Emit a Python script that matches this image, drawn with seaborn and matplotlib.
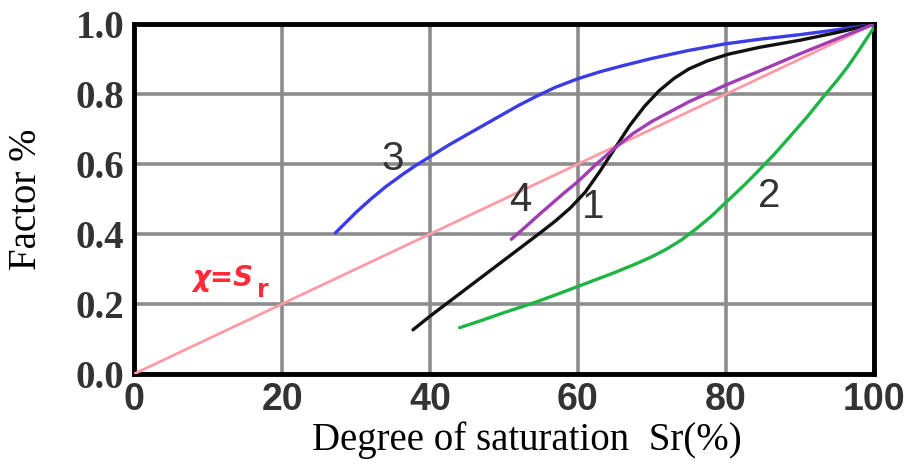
import matplotlib
matplotlib.use("Agg")
import matplotlib.pyplot as plt
import seaborn as sns
import pandas as pd

# ---- data ----
line_x = [0, 100]
line_y = [0.0, 1.0]

c3_x = [27.2, 30, 32, 34, 36.4, 38, 40, 42.5, 45.4, 48, 50, 52, 54.5, 57, 60, 63, 66, 70, 75, 80, 85, 90, 95, 100]
c3_y = [0.403, 0.462, 0.50, 0.535, 0.572, 0.595, 0.621, 0.654, 0.689, 0.72, 0.744, 0.768, 0.795, 0.82, 0.844,
        0.864, 0.881, 0.902, 0.925, 0.944, 0.958, 0.97, 0.984, 1.0]

c1_x = [37.7, 40, 45, 50, 55, 57, 59, 61, 63, 65, 67, 69, 71, 73, 75, 77.5, 80.3, 84.6, 90, 95, 100]
c1_y = [0.126, 0.165, 0.245, 0.325, 0.405, 0.438, 0.475, 0.52, 0.58, 0.645, 0.71, 0.765, 0.81, 0.845, 0.872,
        0.895, 0.914, 0.934, 0.954, 0.976, 1.0]

c4_x = [51, 53, 55, 58, 60, 62.5, 65, 67.5, 70, 75, 80, 85, 90, 95, 100]
c4_y = [0.385, 0.422, 0.46, 0.515, 0.55, 0.60, 0.646, 0.688, 0.722, 0.778, 0.826, 0.87, 0.915, 0.958, 1.0]

c2_x = [44, 47, 50, 54, 57, 60, 65, 68, 70, 72, 74, 76, 78, 80, 82.5, 84.6, 86.5, 88.6, 91, 93.1, 95,
        96.4, 98, 100]
c2_y = [0.132, 0.153, 0.175, 0.203, 0.226, 0.25, 0.29, 0.316, 0.335, 0.357, 0.383, 0.415, 0.45, 0.49, 0.54,
        0.585, 0.627, 0.677, 0.735, 0.79, 0.838, 0.876, 0.925, 0.99]

x_ticks = [0, 20, 40, 60, 80, 100]
y_ticks = [0.0, 0.2, 0.4, 0.6, 0.8, 1.0]
y_ticklabels = ["0.0", "0.2", "0.4", "0.6", "0.8", "1.0"]

curve_labels = ["3", "4", "1", "2"]
curve_label_x = [34.9, 52.2, 62.0, 85.9]
curve_label_y = [0.614, 0.497, 0.477, 0.51]

sns.set_style("white")
plt.rcParams["font.family"] = ["Liberation Serif", "DejaVu Serif"]

fig = plt.figure(figsize=(9.13, 4.65), dpi=100)
ax = fig.add_axes([0.147, 0.196, 0.81, 0.752])

series = [
    (line_x, line_y, "#ff9aa6", 2.0),
    (c3_x, c3_y, "#3c3ce6", 2.4),
    (c1_x, c1_y, "#111111", 2.4),
    (c4_x, c4_y, "#a03cb4", 2.4),
    (c2_x, c2_y, "#1eb446", 2.4),
]
for xs, ys, col, lw in series:
    df = pd.DataFrame({"x": xs, "y": ys})
    sns.lineplot(data=df, x="x", y="y", ax=ax, color=col, linewidth=lw,
                 sort=False, estimator=None, zorder=3)
for ln in ax.get_lines():
    ln.set_solid_joinstyle("round")
    ln.set_solid_capstyle("round")

ax.set_xlim(0, 100)
ax.set_ylim(0, 1.0)
ax.set_xticks(x_ticks)
ax.set_yticks(y_ticks)
ax.set_yticklabels(y_ticklabels)
ax.grid(True, color="#8c8c8c", linewidth=2.6, zorder=1)
ax.set_axisbelow(True)
for sp in ax.spines.values():
    sp.set_color("black")
    sp.set_linewidth(3.5)
    sp.set_visible(True)

ax.tick_params(axis="both", length=0)
ax.tick_params(axis="y", pad=7)
ax.tick_params(axis="x", pad=6)
for lab in ax.get_yticklabels():
    lab.set_fontfamily("Liberation Serif")
    lab.set_fontweight("bold")
    lab.set_fontsize(28)
    lab.set_color("#333333")
for lab in ax.get_xticklabels():
    lab.set_fontfamily("Liberation Sans")
    lab.set_fontweight("bold")
    lab.set_fontsize(27)
    lab.set_color("#333333")

ax.set_xlabel("Degree of saturation  Sr(%)", fontsize=28,
              fontfamily="Liberation Serif", color="black")
ax.xaxis.set_label_coords(0.531, -0.189)
ax.xaxis.label.set_va("center")
ax.set_ylabel("Factor %", fontsize=28, fontfamily="Liberation Serif", color="black")
ax.yaxis.set_label_coords(-0.145, 0.5)
ax.yaxis.label.set_va("center")

for t, x, y in zip(curve_labels, curve_label_x, curve_label_y):
    ax.text(x, y, t, fontsize=29, fontfamily="Liberation Sans", fontweight="normal",
            color="#333333", ha="center", va="center", zorder=4)

ax.text(7.8, 0.275, "χ=S", fontsize=20, fontfamily="DejaVu Sans", fontweight="bold",
        style="italic", color="#ff2a3a", ha="left", va="center", zorder=4)
ax.text(16.6, 0.24, "r", fontsize=17, fontfamily="DejaVu Sans", fontweight="bold",
        color="#ff2a3a", ha="left", va="center", zorder=4)

fig.savefig("out.png", dpi=100, facecolor="white")
